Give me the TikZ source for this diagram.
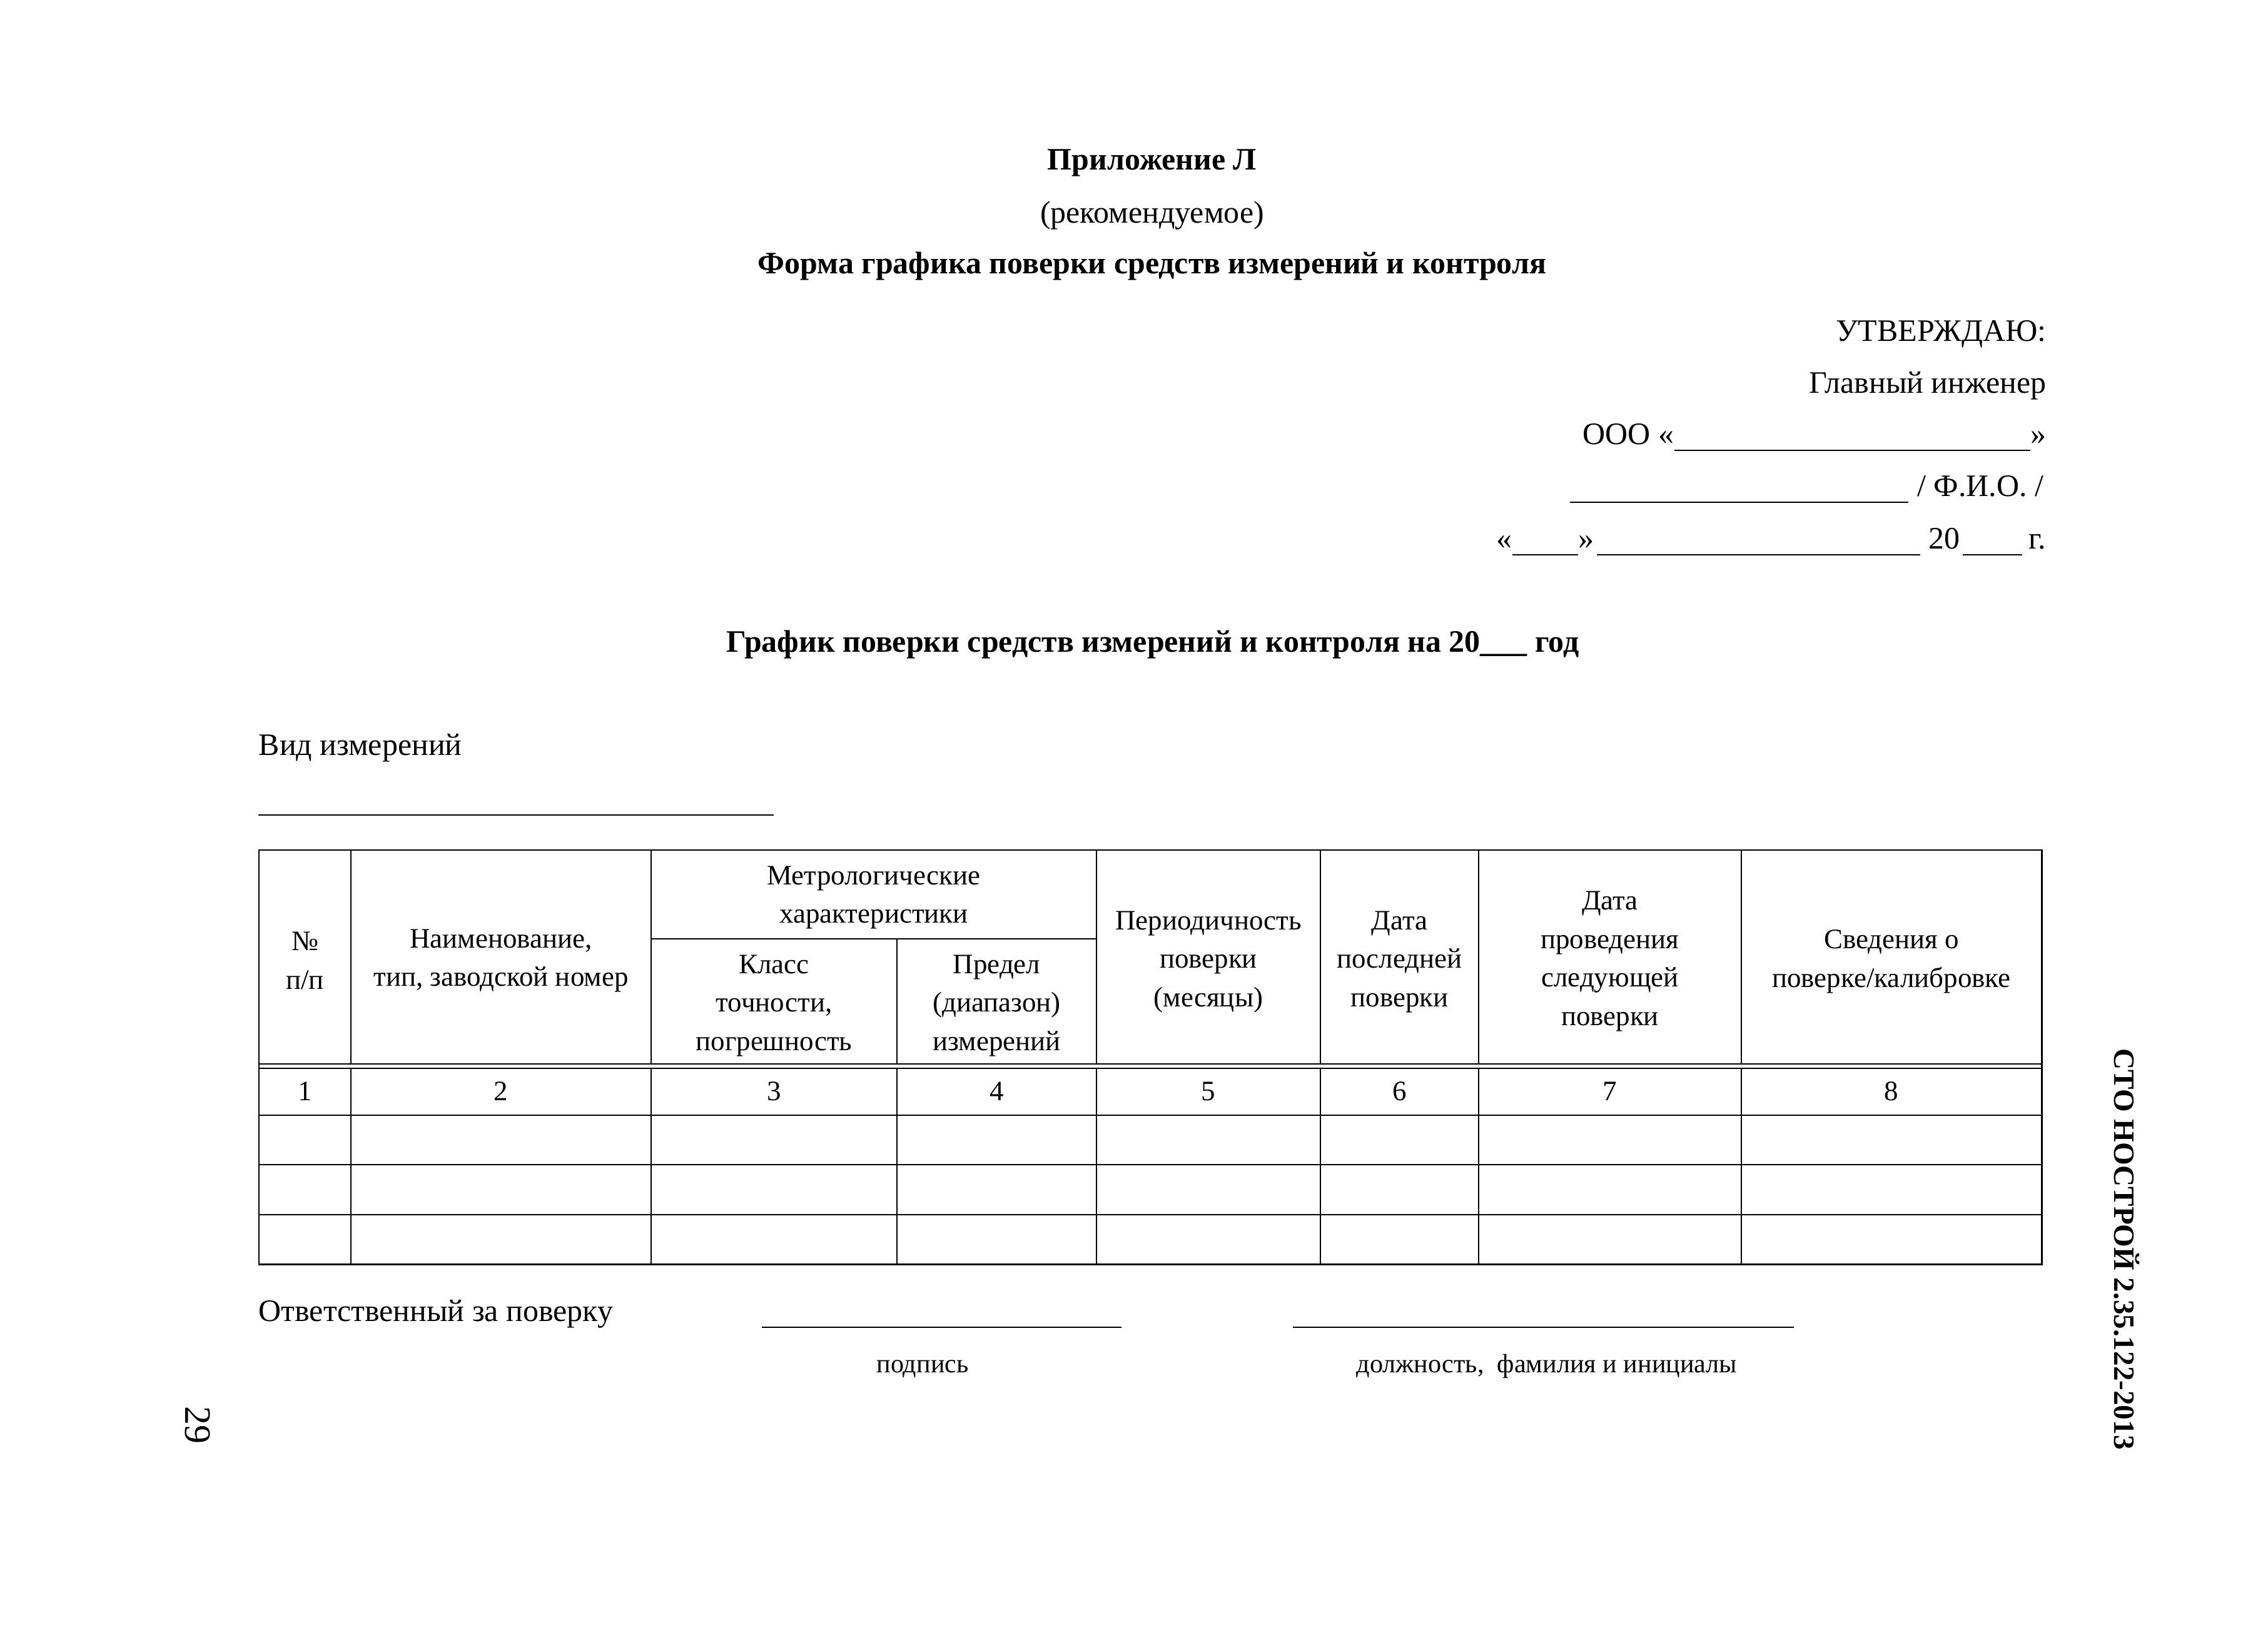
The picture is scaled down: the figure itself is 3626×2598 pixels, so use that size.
\documentclass[tikz,border=0pt]{standalone}
\usepackage{fontspec}
\setmainfont{Liberation Serif}
\usetikzlibrary{calc}
\tikzset{
  body/.style={font=\fontsize{14.2}{17}\selectfont, inner sep=0pt},
  ttl/.style={font=\bfseries\fontsize{14.2}{17}\selectfont, inner sep=0pt},
  cell/.style={font=\fontsize{12.8}{17.6}\selectfont, align=center, inner sep=0pt},
  small/.style={font=\fontsize{12}{14}\selectfont, inner sep=0pt},
  side/.style={font=\bfseries\fontsize{13.4}{16}\selectfont, inner sep=0pt, rotate=-90},
  pagenum/.style={font=\fontsize{17}{20}\selectfont, inner sep=0pt, rotate=-90},
  frame/.style={line width=0.85pt},
  rule/.style={line width=0.7pt},
  blank/.style={line width=0.6pt},
}
\begin{document}
\begin{tikzpicture}[x=0.01cm,y=-0.01cm]
\fill[white] (0,0) rectangle (3626,2598);
\useasboundingbox (0,0) rectangle (3626,2598);

% titles
\node[ttl, anchor=base] (t1) at (1842,272) {Приложение Л};
\node[body, anchor=base] (t2) at (1842,357) {(рекомендуемое)};
\node[ttl, anchor=base] (t3) at (1842,438) {Форма графика поверки средств измерений и контроля};

% approval block
\node[body, anchor=base east] (a1) at (3272,546) {УТВЕРЖДАЮ:};
\node[body, anchor=base east] (a2) at (3272,629) {Главный инженер};
\node[body, anchor=base west] (a3) at (2530,711) {ООО «};
\node[body, anchor=base east] (a3r) at (3272,711) {»};
\draw[blank] ([yshift=-2.5pt]a3.base east) -- ([yshift=-2.5pt]a3r.base west);
\coordinate (a4l) at (2510,794);
\node[body, anchor=base east] (a4) at (3268,794) {/ Ф.И.О. /};
\draw[blank] ([yshift=-2.5pt]a4l) -- ([yshift=-2.5pt,xshift=-4pt]a4.base west);
\node[body, anchor=base west] (a5a) at (2392,878) {«};
\node[body, anchor=base west] (a5b) at (2523,878) {»};
\node[body, anchor=base east] (a5g) at (3272,878) {г.};
\node[body, anchor=base east] (a5y) at (3134,878) {20};
\draw[blank] ([yshift=-2.5pt]a5a.base east) -- ([yshift=-2.5pt]a5b.base west);
\draw[blank] ([yshift=-2.5pt,xshift=1pt]a5b.base east) -- ([yshift=-2.5pt,xshift=-3.5pt]a5y.base west);
\draw[blank] ([yshift=-2.5pt,xshift=1pt]a5y.base east) -- ([yshift=-2.5pt,xshift=-3pt]a5g.base west);

% schedule title
\node[ttl, anchor=base] (t4) at (1843,1043) {График поверки средств измерений и контроля на 20\_\_\_ год};

\node[body, anchor=base west] (vid) at (413,1208) {Вид измерений};
\coordinate (vl) at (413,1303);
\coordinate (vr) at (1237,1303);
\draw[blank] (vl) -- (vr);

% table grid
\draw[frame] (414,1359) rectangle (3264,2021);
\draw[rule] (414,1701) -- (3264,1701);
\draw[rule] (414,1708) -- (3264,1708);
\draw[rule] (1041,1501) -- (1753,1501);
\foreach \y in {1783,1862,1942} \draw[rule] (414,\y) -- (3264,\y);
\foreach \x in {561,1041,1753,2111,2364,2784} {
  \draw[rule] (\x,1359) -- (\x,1701);
  \draw[rule] (\x,1708) -- (\x,2021);
}
\draw[rule] (1434,1501) -- (1434,1701);
\draw[rule] (1434,1708) -- (1434,2021);

% header cells
\node[cell] (h1) at (487.5,1536) {№\\п/п};
\node[cell] (h2) at (801,1536) {Наименование,\\тип, заводской номер};
\node[cell] (h3) at (1397,1435) {Метрологические\\характеристики};
\node[cell] (h3a) at (1237.5,1608) {Класс\\точности,\\погрешность};
\node[cell] (h3b) at (1593.5,1608) {Предел\\(диапазон)\\измерений};
\node[cell] (h5) at (1932,1538) {Периодичность\\поверки\\(месяцы)};
\node[cell] (h6) at (2237.5,1538) {Дата\\последней\\поверки};
\node[cell] (h7) at (2574,1537) {Дата\\проведения\\следующей\\поверки};
\node[cell] (h8) at (3024,1537) {Сведения о\\поверке/калибровке};

% number row
\node[cell] (n1) at (487.5,1745) {1};
\node[cell] (n2) at (801,1745) {2};
\node[cell] (n3) at (1237.5,1745) {3};
\node[cell] (n4) at (1593.5,1745) {4};
\node[cell] (n5) at (1932,1745) {5};
\node[cell] (n6) at (2237.5,1745) {6};
\node[cell] (n7) at (2574,1745) {7};
\node[cell] (n8) at (3024,1745) {8};

% signature
\node[body, anchor=base west] (resp) at (413,2112) {Ответственный за поверку};
\coordinate (s1l) at (1218,2122);
\coordinate (s1r) at (1793,2122);
\coordinate (s2l) at (2067,2122);
\coordinate (s2r) at (2868,2122);
\draw[blank] (s1l) -- (s1r);
\draw[blank] (s2l) -- (s2r);
\node[small, anchor=base] (sig) at (1475,2194) {подпись};
\node[small, anchor=base] (pos) at (2473,2194) {должность,\ \ фамилия и инициалы};

% side texts
\node[side] (std) at (3400,1997) {СТО НОСТРОЙ 2.35.122-2013};
\node[pagenum] (pg) at (316,2278) {29};
\end{tikzpicture}
\end{document}
